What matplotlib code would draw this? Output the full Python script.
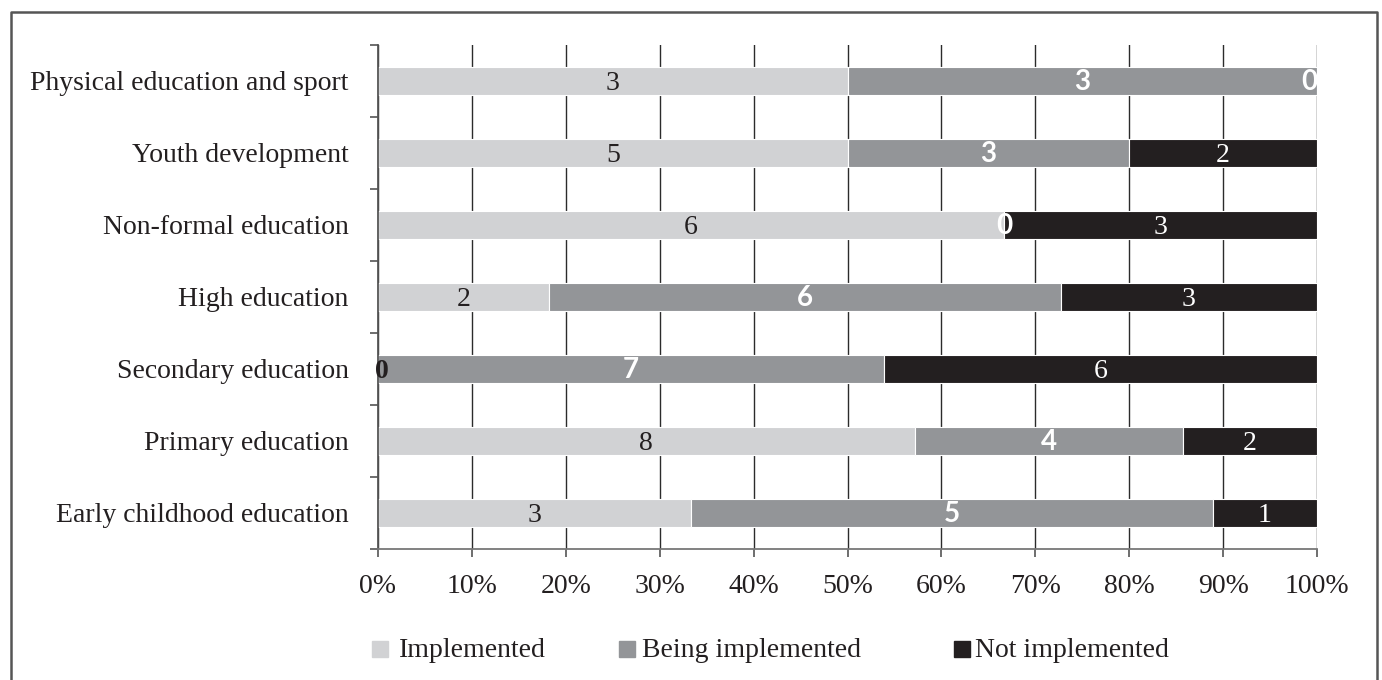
import matplotlib
matplotlib.use("Agg")
import matplotlib.pyplot as plt
from matplotlib.lines import Line2D
from matplotlib.patches import Rectangle
import numpy as np

plt.rcParams['font.family'] = ['Liberation Serif', 'DejaVu Serif']

categories = [
    "Physical education and sport",
    "Youth development",
    "Non-formal education",
    "High education",
    "Secondary education",
    "Primary education",
    "Early childhood education",
]
implemented = [3, 5, 6, 2, 0, 8, 3]
being_implemented = [3, 3, 0, 6, 7, 4, 5]
not_implemented = [0, 2, 3, 3, 6, 2, 1]
series_names = ["Implemented", "Being implemented", "Not implemented"]
colors = ["#d1d2d4", "#939598", "#231f20"]
x_tick_labels = ["0%", "10%", "20%", "30%", "40%", "50%", "60%", "70%", "80%", "90%", "100%"]

FS = 20
W, H = 1382, 680
fig = plt.figure(figsize=(W / 100, H / 100), dpi=100)
ax = fig.add_axes([378 / W, 1 - 549 / H, (1317 - 378) / W, (549 - 45) / H])

counts = np.array([implemented, being_implemented, not_implemented], dtype=float)
totals = counts.sum(axis=0)
shares = counts / totals * 100
n = len(categories)
ypos = np.arange(n)[::-1]  # first category at the top
baseline_shift = 0.125     # digits sit centred on the bar

left = np.zeros(n)
for i in range(3):
    ax.barh(ypos, shares[i], left=left, height=0.4, color=colors[i],
            edgecolor="white", linewidth=0.8, zorder=2)
    for j in range(n):
        val = counts[i, j]
        w = shares[i, j]
        cx = left[j] + w / 2
        if i == 0:
            kw = dict(color="#231f20", fontsize=FS,
                      fontweight="bold" if val == 0 else "normal")
        elif i == 1:
            kw = dict(color="white", fontsize=FS, fontweight="bold",
                      family=["Lato", "DejaVu Sans"])
        else:
            kw = dict(color="white", fontsize=FS)
        ha = "center"
        if val == 0 and cx >= 99.9:
            cx, ha = 100.0, "right"
            kw = dict(color="white", fontsize=FS, fontweight="bold",
                      family=["Lato", "DejaVu Sans"])
        elif val == 0 and cx <= 0.1:
            cx, ha = -0.3, "left"
        ax.text(cx, ypos[j] - baseline_shift, f"{int(val)}", ha=ha,
                va="baseline", zorder=4, **kw)
    left = left + shares[i]

ax.set_xlim(0, 100)
ax.set_ylim(-0.5, n - 0.5)
ax.set_xticks(np.arange(0, 101, 10))
ax.set_xticklabels(x_tick_labels, fontsize=FS, color="#231f20")
ax.xaxis.grid(True, color="#2b2b2b", linewidth=1.0, zorder=0)
ax.set_axisbelow(True)

ax.set_yticks(ypos)
ax.set_yticklabels(categories, fontsize=FS, color="#231f20")
ax.tick_params(axis="y", which="major", length=0, pad=21)
ax.set_yticks(np.arange(-0.5, n, 1.0), minor=True)
ax.tick_params(axis="y", which="minor", length=6, width=1.2, color="#555555")
ax.tick_params(axis="x", length=6, width=1.2, color="#555555", pad=12)

for s in ["top", "right"]:
    ax.spines[s].set_visible(False)
ax.spines["left"].set_color("#555555")
ax.spines["left"].set_linewidth(1.3)
ax.spines["bottom"].set_color("#777777")
ax.spines["bottom"].set_linewidth(1.3)

# legend row: square then label, baseline aligned with the square's bottom
legend_items = [(372, 399), (619, 642), (954, 975)]
for (sq_x, tx_x), name, col in zip(legend_items, series_names, colors):
    fig.patches.append(Rectangle((sq_x / W, 1 - 657 / H), 16 / W, 16 / H,
                                 transform=fig.transFigure, color=col))
    fig.text(tx_x / W, 1 - 657 / H, name, fontsize=FS, color="#231f20",
             ha="left", va="baseline")

# frame around the figure, open at the bottom
frame = Line2D([10.5 / W, 10.5 / W, 1377 / W, 1377 / W],
               [0, 1 - 11.5 / H, 1 - 11.5 / H, 0],
               transform=fig.transFigure, color="#555555", linewidth=1.8)
fig.lines.append(frame)

fig.savefig("out.png", dpi=100, facecolor="white")
